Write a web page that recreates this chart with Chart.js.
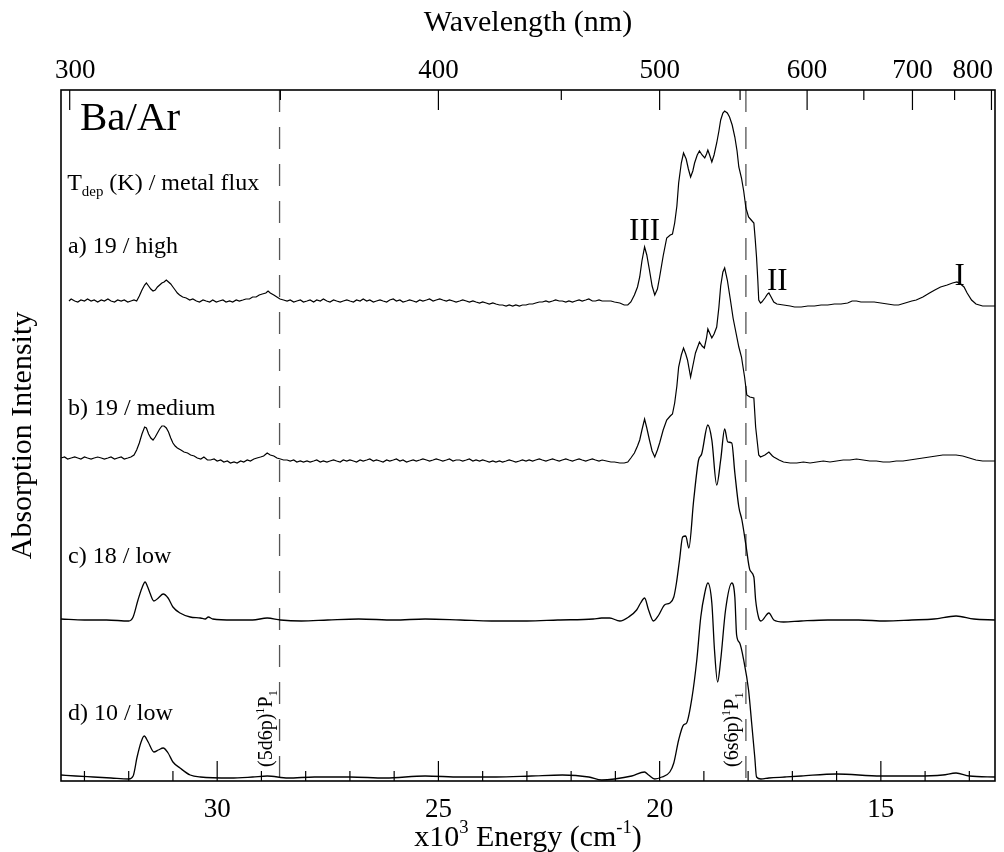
<!DOCTYPE html>
<html lang="en">
<head>
<meta charset="UTF-8">
<title>Ba/Ar absorption spectra</title>
<script src="https://cdn.jsdelivr.net/npm/chart.js"></script>
<style>
  body { margin: 0; background: #fff; }
  #wrap { width: 1004px; height: 852px; }
</style>
</head>
<body>
<div id="wrap"><canvas id="spec" width="1004" height="852"></canvas></div>
<script>
// energies in 10^3 cm^-1, intensities in arbitrary units above each trace's own baseline
const traceA = [
  [33.35, 0], [33.30, 2], [33.22, 0], [33.15, -1], [33.08, 1], [33.00, 0], [32.93, 2], [32.85, 0],
  [32.78, 1], [32.70, -1], [32.62, 1], [32.55, 0], [32.47, 2], [32.40, 0], [32.32, -1], [32.25, 1],
  [32.17, 0], [32.10, 1], [32.02, -1], [31.95, 0], [31.88, 1], [31.82, 0], [31.76, 5], [31.70, 11],
  [31.64, 16], [31.60, 18], [31.55, 15], [31.50, 12], [31.45, 10], [31.40, 11], [31.35, 14], [31.30, 16],
  [31.25, 18], [31.20, 19], [31.15, 21], [31.10, 19], [31.05, 17], [31.00, 14], [30.95, 11], [30.90, 8],
  [30.85, 6], [30.78, 4], [30.70, 3], [30.62, 1], [30.55, 2], [30.47, 0], [30.40, -1], [30.32, 1],
  [30.25, 0], [30.17, -1], [30.10, 1], [30.02, -1], [29.95, 0], [29.87, 1], [29.80, -1], [29.72, 0],
  [29.65, -1], [29.57, 1], [29.50, 0], [29.42, 1], [29.35, 2], [29.27, 2], [29.20, 4], [29.12, 4],
  [29.05, 6], [28.98, 7], [28.90, 8], [28.85, 10], [28.80, 8], [28.72, 6], [28.65, 4], [28.58, 2],
  [28.50, 1], [28.42, 0], [28.35, 1], [28.27, -1], [28.20, 0], [28.12, 1], [28.05, -1], [27.97, 0],
  [27.90, 1], [27.82, -1], [27.75, 1], [27.67, 0], [27.60, 2], [27.52, 0], [27.45, -1], [27.37, 1],
  [27.30, 0], [27.22, -1], [27.15, 0], [27.07, 1], [27.00, 0], [26.92, -1], [26.85, 1], [26.77, 0],
  [26.70, 2], [26.62, 0], [26.55, 1], [26.47, -1], [26.40, 0], [26.32, 1], [26.25, 0], [26.17, -1],
  [26.10, 1], [26.02, 2], [25.95, 0], [25.87, 1], [25.80, -1], [25.72, 0], [25.65, 1], [25.57, 0],
  [25.50, -1], [25.42, 1], [25.35, 0], [25.27, 1], [25.20, 2], [25.12, 0], [25.05, 1], [24.97, 2],
  [24.90, 1], [24.82, 0], [24.75, 1], [24.67, 0], [24.60, -1], [24.52, 0], [24.45, 1], [24.37, 0],
  [24.30, -1], [24.22, 0], [24.15, -1], [24.07, -2], [24.00, -1], [23.92, -2], [23.85, -3], [23.77, -2],
  [23.70, -3], [23.62, -4], [23.55, -4], [23.47, -5], [23.40, -4], [23.32, -5], [23.25, -4], [23.17, -5],
  [23.10, -4], [23.02, -4], [22.95, -3], [22.87, -3], [22.80, -2], [22.72, -1], [22.65, -1], [22.57, 0],
  [22.50, -1], [22.42, 0], [22.35, 1], [22.27, 0], [22.20, 0], [22.12, -1], [22.05, 0], [21.97, -1],
  [21.90, 0], [21.82, 1], [21.75, 0], [21.67, 1], [21.60, 2], [21.52, 0], [21.45, 0], [21.37, 1],
  [21.30, 0], [21.20, 0], [21.10, 0], [21.02, -1], [20.90, -2], [20.80, -4], [20.72, -4], [20.65, -1],
  [20.57, 6], [20.50, 14], [20.45, 24], [20.40, 40], [20.34, 54], [20.29, 46], [20.23, 31], [20.17, 15],
  [20.11, 6], [20.05, 12], [20.00, 24], [19.92, 45], [19.84, 63], [19.76, 66], [19.71, 67], [19.66, 78],
  [19.61, 95], [19.57, 118], [19.51, 138], [19.46, 148], [19.40, 142], [19.35, 132], [19.30, 124], [19.25, 130],
  [19.21, 138], [19.15, 146], [19.10, 150], [19.04, 146], [18.98, 143], [18.94, 147], [18.91, 151], [18.87, 146],
  [18.82, 139], [18.77, 146], [18.71, 158], [18.66, 170], [18.62, 181], [18.57, 188], [18.53, 190], [18.47, 188],
  [18.42, 184], [18.36, 176], [18.30, 164], [18.25, 150], [18.21, 134], [18.15, 123], [18.10, 110], [18.05, 93],
  [17.99, 84], [17.93, 81], [17.87, 78], [17.84, 62], [17.81, 44], [17.78, 20], [17.76, 1], [17.72, -2],
  [17.69, -1], [17.62, 3], [17.56, 7], [17.53, 8], [17.48, 4], [17.42, -1], [17.35, -3], [17.20, -4],
  [17.05, -5], [16.95, -6], [16.80, -6], [16.65, -5], [16.50, -5], [16.35, -4], [16.20, -4], [16.05, -3],
  [15.90, -3], [15.75, -2], [15.65, 0], [15.55, 0], [15.45, -1], [15.30, -1], [15.15, -1], [15.00, -2],
  [14.85, -3], [14.70, -4], [14.60, -4], [14.45, -2], [14.30, 0], [14.20, 1], [14.05, 4], [13.90, 8],
  [13.78, 11], [13.65, 14], [13.50, 16], [13.38, 18], [13.28, 19], [13.20, 17], [13.12, 14], [13.05, 8],
  [12.95, 1], [12.85, -3], [12.70, -5], [12.55, -5], [12.42, -5]
];

const traceB = [
  [33.53, 0], [33.45, 1], [33.38, -1], [33.30, 0], [33.22, 1], [33.15, 0], [33.08, -1], [33.00, 1],
  [32.93, 0], [32.85, -1], [32.78, 0], [32.70, 1], [32.62, 0], [32.55, -1], [32.47, 0], [32.40, 1],
  [32.32, -1], [32.25, 0], [32.17, 1], [32.10, -1], [32.02, 0], [31.95, 1], [31.88, 3], [31.82, 8],
  [31.76, 15], [31.70, 24], [31.64, 31], [31.60, 30], [31.55, 24], [31.50, 20], [31.45, 18], [31.40, 21],
  [31.35, 25], [31.30, 29], [31.25, 32], [31.20, 32], [31.15, 30], [31.10, 26], [31.05, 20], [31.00, 15],
  [30.95, 12], [30.90, 10], [30.82, 8], [30.75, 6], [30.67, 5], [30.60, 3], [30.52, 2], [30.45, 0],
  [30.37, -1], [30.30, 1], [30.22, -2], [30.15, -2], [30.07, -1], [30.00, -3], [29.92, -2], [29.85, -4],
  [29.77, -3], [29.70, -5], [29.62, -4], [29.55, -5], [29.47, -3], [29.40, -4], [29.32, -2], [29.25, -3],
  [29.17, -1], [29.10, 0], [29.02, 1], [28.95, 2], [28.87, 5], [28.80, 3], [28.72, 2], [28.65, 0],
  [28.57, -1], [28.50, -2], [28.42, -2], [28.35, -3], [28.27, -2], [28.20, -4], [28.12, -3], [28.05, -4],
  [27.97, -3], [27.90, -4], [27.82, -3], [27.75, -2], [27.67, -4], [27.60, -3], [27.52, -4], [27.45, -3],
  [27.37, -2], [27.30, -3], [27.22, -4], [27.15, -2], [27.07, -3], [27.00, -2], [26.92, -3], [26.85, -4],
  [26.77, -2], [26.70, -3], [26.62, -2], [26.55, -1], [26.47, -3], [26.40, -2], [26.32, -3], [26.25, -4],
  [26.17, -2], [26.10, -3], [26.02, -2], [25.95, -1], [25.87, -3], [25.80, -2], [25.72, -4], [25.65, -3],
  [25.57, -2], [25.50, -3], [25.42, -2], [25.35, -1], [25.27, -2], [25.20, -3], [25.12, -2], [25.05, -1],
  [24.97, -2], [24.90, -3], [24.82, -2], [24.75, -1], [24.67, -3], [24.60, -2], [24.52, -2], [24.45, -3],
  [24.37, -2], [24.30, -1], [24.22, -3], [24.15, -2], [24.07, -3], [24.00, -2], [23.92, -3], [23.85, -4],
  [23.77, -3], [23.70, -4], [23.62, -3], [23.55, -4], [23.47, -3], [23.40, -2], [23.32, -3], [23.25, -4],
  [23.17, -3], [23.10, -2], [23.02, -3], [22.95, -2], [22.87, -3], [22.80, -2], [22.72, -1], [22.65, -2],
  [22.57, -3], [22.50, -2], [22.42, -1], [22.35, -2], [22.27, -3], [22.20, -2], [22.12, -1], [22.05, -2],
  [21.97, -3], [21.90, -2], [21.82, -1], [21.75, -2], [21.67, -3], [21.60, -2], [21.52, -1], [21.45, -2],
  [21.37, -3], [21.30, -2], [21.20, -3], [21.10, -4], [21.02, -4], [20.90, -5], [20.80, -5], [20.72, -4],
  [20.65, 0], [20.57, 5], [20.50, 12], [20.45, 18], [20.40, 28], [20.34, 39], [20.29, 30], [20.23, 18],
  [20.17, 7], [20.11, 1], [20.05, 8], [20.00, 15], [19.92, 28], [19.84, 38], [19.76, 42], [19.71, 44],
  [19.66, 55], [19.61, 72], [19.57, 91], [19.51, 103], [19.46, 110], [19.41, 104], [19.37, 98], [19.30, 81],
  [19.25, 92], [19.19, 105], [19.10, 116], [19.04, 112], [18.99, 110], [18.94, 120], [18.91, 129], [18.86, 124],
  [18.82, 120], [18.77, 124], [18.71, 131], [18.66, 151], [18.62, 172], [18.57, 186], [18.53, 190], [18.47, 178],
  [18.40, 158], [18.34, 140], [18.30, 131], [18.21, 111], [18.15, 101], [18.08, 81], [18.03, 63], [17.96, 61],
  [17.87, 60], [17.83, 31], [17.76, 3], [17.72, 1], [17.62, 3], [17.53, 6], [17.45, 2], [17.42, 1],
  [17.30, -2], [17.20, -4], [17.05, -5], [16.90, -5], [16.75, -4], [16.60, -5], [16.45, -4], [16.30, -3],
  [16.15, -4], [16.00, -3], [15.85, -2], [15.70, -2], [15.55, -1], [15.40, -2], [15.25, -3], [15.10, -3],
  [14.95, -4], [14.80, -4], [14.65, -3], [14.50, -3], [14.35, -2], [14.20, -1], [14.05, 0], [13.90, 1],
  [13.75, 2], [13.60, 3], [13.45, 3], [13.30, 3], [13.15, 2], [13.00, 0], [12.85, -2], [12.70, -3],
  [12.55, -3], [12.42, -3]
];

const traceC = [
  [33.53, 0], [33.00, -1], [32.50, -1], [32.00, -2], [31.90, 2], [31.79, 19], [31.70, 31], [31.63, 37],
  [31.57, 32], [31.52, 26], [31.43, 18], [31.33, 21], [31.22, 25], [31.11, 21], [31.00, 12], [30.84, 6],
  [30.61, 2], [30.38, 1], [30.27, 0], [30.20, 2], [30.10, 0], [29.64, -1], [29.20, -1], [28.87, 1],
  [28.57, -1], [28.10, -2], [27.50, -1], [26.80, 0], [26.00, -1], [25.30, 0], [24.50, -1], [23.80, -2],
  [23.00, -2], [22.30, -1], [21.50, 0], [21.31, 1], [21.13, 1], [20.90, -2], [20.70, 2], [20.52, 9],
  [20.43, 16], [20.34, 21], [20.25, 9], [20.14, -2], [20.02, 4], [19.89, 14], [19.77, 16], [19.68, 22],
  [19.62, 36], [19.55, 59], [19.48, 82], [19.41, 83], [19.34, 71], [19.23, 119], [19.12, 159], [19.05, 165],
  [18.91, 194], [18.82, 179], [18.71, 134], [18.62, 159], [18.53, 190], [18.46, 177], [18.37, 176], [18.30, 146],
  [18.21, 112], [18.14, 99], [18.05, 74], [17.96, 49], [17.87, 42], [17.83, 19], [17.76, 1], [17.71, -2],
  [17.53, 6], [17.42, -1], [17.20, -3], [16.80, -2], [16.20, -1], [15.50, -1], [14.90, -2], [14.30, -1],
  [13.80, 0], [13.30, 3], [12.90, 0], [12.42, -1]
];

const traceD = [
  [33.53, 2], [33.20, 1], [32.80, 0], [32.40, -1], [32.00, -2], [31.90, 1], [31.81, 20], [31.72, 35],
  [31.65, 41], [31.56, 35], [31.43, 25], [31.33, 27], [31.22, 29], [31.11, 24], [31.00, 15], [30.84, 9],
  [30.61, 2], [30.38, 0], [29.70, -1], [29.20, 0], [28.87, 1], [28.40, -1], [27.80, 0], [27.00, 0],
  [26.20, -1], [25.30, 1], [24.50, 0], [23.70, 0], [22.90, 1], [22.20, 2], [21.60, 0], [21.31, -3],
  [21.02, -2], [20.63, 1], [20.34, 5], [20.25, 2], [20.11, -2], [19.95, 0], [19.77, 5], [19.68, 14],
  [19.57, 37], [19.46, 52], [19.39, 54], [19.27, 79], [19.16, 117], [19.07, 160], [18.98, 184], [18.91, 194],
  [18.82, 174], [18.76, 127], [18.69, 95], [18.62, 117], [18.51, 167], [18.37, 194], [18.30, 180], [18.26, 142],
  [18.19, 134], [18.10, 117], [17.99, 87], [17.92, 54], [17.85, 20], [17.81, 0], [17.71, -2], [17.53, -1],
  [17.17, 0], [16.80, 1], [16.00, 3], [15.00, 1], [14.20, 1], [13.60, 2], [13.30, 4], [13.00, 1],
  [12.42, 0]
];

const traces = [traceA, traceB, traceC, traceD];
const traceOffsets = [480, 323, 162, 4];
const noisyTraces = [true, true, false, false];

const energyRange = [12.42, 33.53];
const intensityRange = [0, 691];
const energyMajor = [30, 25, 20, 15];
const energyMinor = [33, 32, 31, 29, 28, 27, 26, 24, 23, 22, 21, 19, 18, 17, 16, 14, 13];
const wavelengthMajor = [300, 400, 500, 600, 700, 800];
const wavelengthMinor = [350, 450, 550, 650, 750];
const atomicLines = [28.59, 18.05];

const FONT = '"Liberation Serif", "Times New Roman", serif';

// text labels: parts are [text, 'sub' | 'sup' | undefined]
const labels = [
  { parts: [['Ba/Ar']], e: 33.10, v: 651, size: 41 },
  { parts: [['T'], ['dep', 'sub'], [' (K) / metal flux']], e: 33.39, v: 591, size: 24 },
  { parts: [['a) 19 / high']], e: 33.37, v: 528, size: 24 },
  { parts: [['b) 19 / medium']], e: 33.37, v: 366, size: 24 },
  { parts: [['c) 18 / low']], e: 33.37, v: 218, size: 24 },
  { parts: [['d) 10 / low']], e: 33.37, v: 61, size: 24 },
  { parts: [['III']], e: 20.34, v: 541, size: 31, align: 'center' },
  { parts: [['II']], e: 17.34, v: 491, size: 31, align: 'center' },
  { parts: [['I']], e: 13.22, v: 496, size: 31, align: 'center' },
  { parts: [['(5d6p)'], ['1', 'sup'], ['P'], ['1', 'sub']], e: 28.76, v: 14, size: 20, rotate: true },
  { parts: [['(6s6p)'], ['1', 'sup'], ['P'], ['1', 'sub']], e: 18.22, v: 14, size: 20, rotate: true }
];

function richText(ctx, parts, x, y, size, align) {
  const fontOf = k => (k ? size * 0.62 : size) + 'px ' + FONT;
  let total = 0;
  parts.forEach(p => { ctx.font = fontOf(p[1]); total += ctx.measureText(p[0]).width; });
  let cx = align === 'center' ? x - total / 2 : x;
  parts.forEach(p => {
    ctx.font = fontOf(p[1]);
    const dy = p[1] === 'sub' ? size * 0.24 : (p[1] === 'sup' ? -size * 0.42 : 0);
    ctx.fillText(p[0], cx, y + dy);
    cx += ctx.measureText(p[0]).width;
  });
}

const decorPlugin = {
  id: 'decor',
  afterDraw(chart) {
    const ctx = chart.ctx;
    const xs = chart.scales.x;
    const ys = chart.scales.y;
    const a = chart.chartArea;
    ctx.save();
    ctx.strokeStyle = '#000';
    ctx.fillStyle = '#000';

    // frame
    ctx.lineWidth = 1.6;
    ctx.strokeRect(a.left, a.top, a.right - a.left, a.bottom - a.top);

    // inward tick marks
    ctx.lineWidth = 1.2;
    const tick = (px, len, top) => {
      ctx.beginPath();
      if (top) { ctx.moveTo(px, a.top); ctx.lineTo(px, a.top + len); }
      else { ctx.moveTo(px, a.bottom); ctx.lineTo(px, a.bottom - len); }
      ctx.stroke();
    };
    energyMajor.forEach(e => tick(xs.getPixelForValue(e), 20, false));
    energyMinor.forEach(e => tick(xs.getPixelForValue(e), 10, false));
    wavelengthMajor.forEach(w => tick(xs.getPixelForValue(1e4 / w), 20, true));
    wavelengthMinor.forEach(w => tick(xs.getPixelForValue(1e4 / w), 10, true));

    // wavelength labels along the top
    ctx.font = '27px ' + FONT;
    ctx.textBaseline = 'alphabetic';
    ctx.textAlign = 'left';
    wavelengthMajor.forEach(w => {
      const t = String(w);
      const wd = ctx.measureText(t).width;
      let c = xs.getPixelForValue(1e4 / w);
      c = Math.max(c, a.left - 6 + wd / 2);
      c = Math.min(c, a.right - 2 - wd / 2);
      ctx.fillText(t, c - wd / 2, a.top - 12);
    });

    // bottom axis title with superscripts
    richText(ctx, [['x10'], ['3', 'sup'], [' Energy (cm'], ['-1', 'sup'], [')']],
      (a.left + a.right) / 2, xs.bottom - 6, 30, 'center');

    // annotations
    labels.forEach(l => {
      const px = xs.getPixelForValue(l.e);
      const py = ys.getPixelForValue(l.v);
      if (l.rotate) {
        ctx.save();
        ctx.translate(px, py);
        ctx.rotate(-Math.PI / 2);
        richText(ctx, l.parts, 0, 0, l.size, 'left');
        ctx.restore();
      } else {
        richText(ctx, l.parts, px, py, l.size, l.align);
      }
    });
    ctx.restore();
  }
};

Chart.defaults.font.family = FONT;
Chart.defaults.color = '#000';

const datasets = traces.map((t, i) => ({
  data: t.map(p => ({ x: p[0], y: p[1] + traceOffsets[i] })),
  borderColor: '#000',
  borderWidth: noisyTraces[i] ? 1.2 : 1.3,
  pointRadius: 0,
  tension: 0,
  cubicInterpolationMode: noisyTraces[i] ? 'default' : 'monotone',
  fill: false
}));
atomicLines.forEach(e => datasets.push({
  data: [{ x: e, y: intensityRange[1] }, { x: e, y: intensityRange[0] }],
  borderColor: '#555',
  borderWidth: 1.3,
  borderDash: [22, 15],
  pointRadius: 0,
  fill: false
}));

const fixSize = (dim, size) => scale => {
  scale[dim] = size;
  scale.paddingLeft = 0;
  scale.paddingRight = 0;
  scale.paddingTop = 0;
  scale.paddingBottom = 0;
};

new Chart(document.getElementById('spec'), {
  type: 'line',
  data: { datasets },
  plugins: [decorPlugin],
  options: {
    responsive: false,
    animation: false,
    layout: { padding: { left: 0, right: 9, top: 0, bottom: 0 } },
    plugins: { legend: { display: false }, tooltip: { enabled: false } },
    scales: {
      x: {
        type: 'linear',
        position: 'bottom',
        reverse: true,
        min: energyRange[0],
        max: energyRange[1],
        afterBuildTicks: axis => { axis.ticks = energyMajor.map(v => ({ value: v })); },
        ticks: { font: { size: 27 }, padding: 5, autoSkip: false, maxRotation: 0, color: '#000' },
        grid: { display: false },
        border: { display: false },
        afterFit: fixSize('height', 71)
      },
      x2: {
        type: 'linear',
        position: 'top',
        reverse: true,
        min: energyRange[0],
        max: energyRange[1],
        ticks: { display: false },
        grid: { display: false },
        border: { display: false },
        title: { display: true, text: 'Wavelength (nm)', font: { size: 30 }, padding: { top: 5, bottom: 0 }, color: '#000' },
        afterFit: fixSize('height', 90)
      },
      y: {
        type: 'linear',
        min: intensityRange[0],
        max: intensityRange[1],
        ticks: { display: false },
        grid: { display: false },
        border: { display: false },
        title: { display: true, text: 'Absorption Intensity', font: { size: 30 }, padding: { top: 5, bottom: 0 }, color: '#000' },
        afterFit: fixSize('width', 61)
      }
    }
  }
});
</script>
</body>
</html>
